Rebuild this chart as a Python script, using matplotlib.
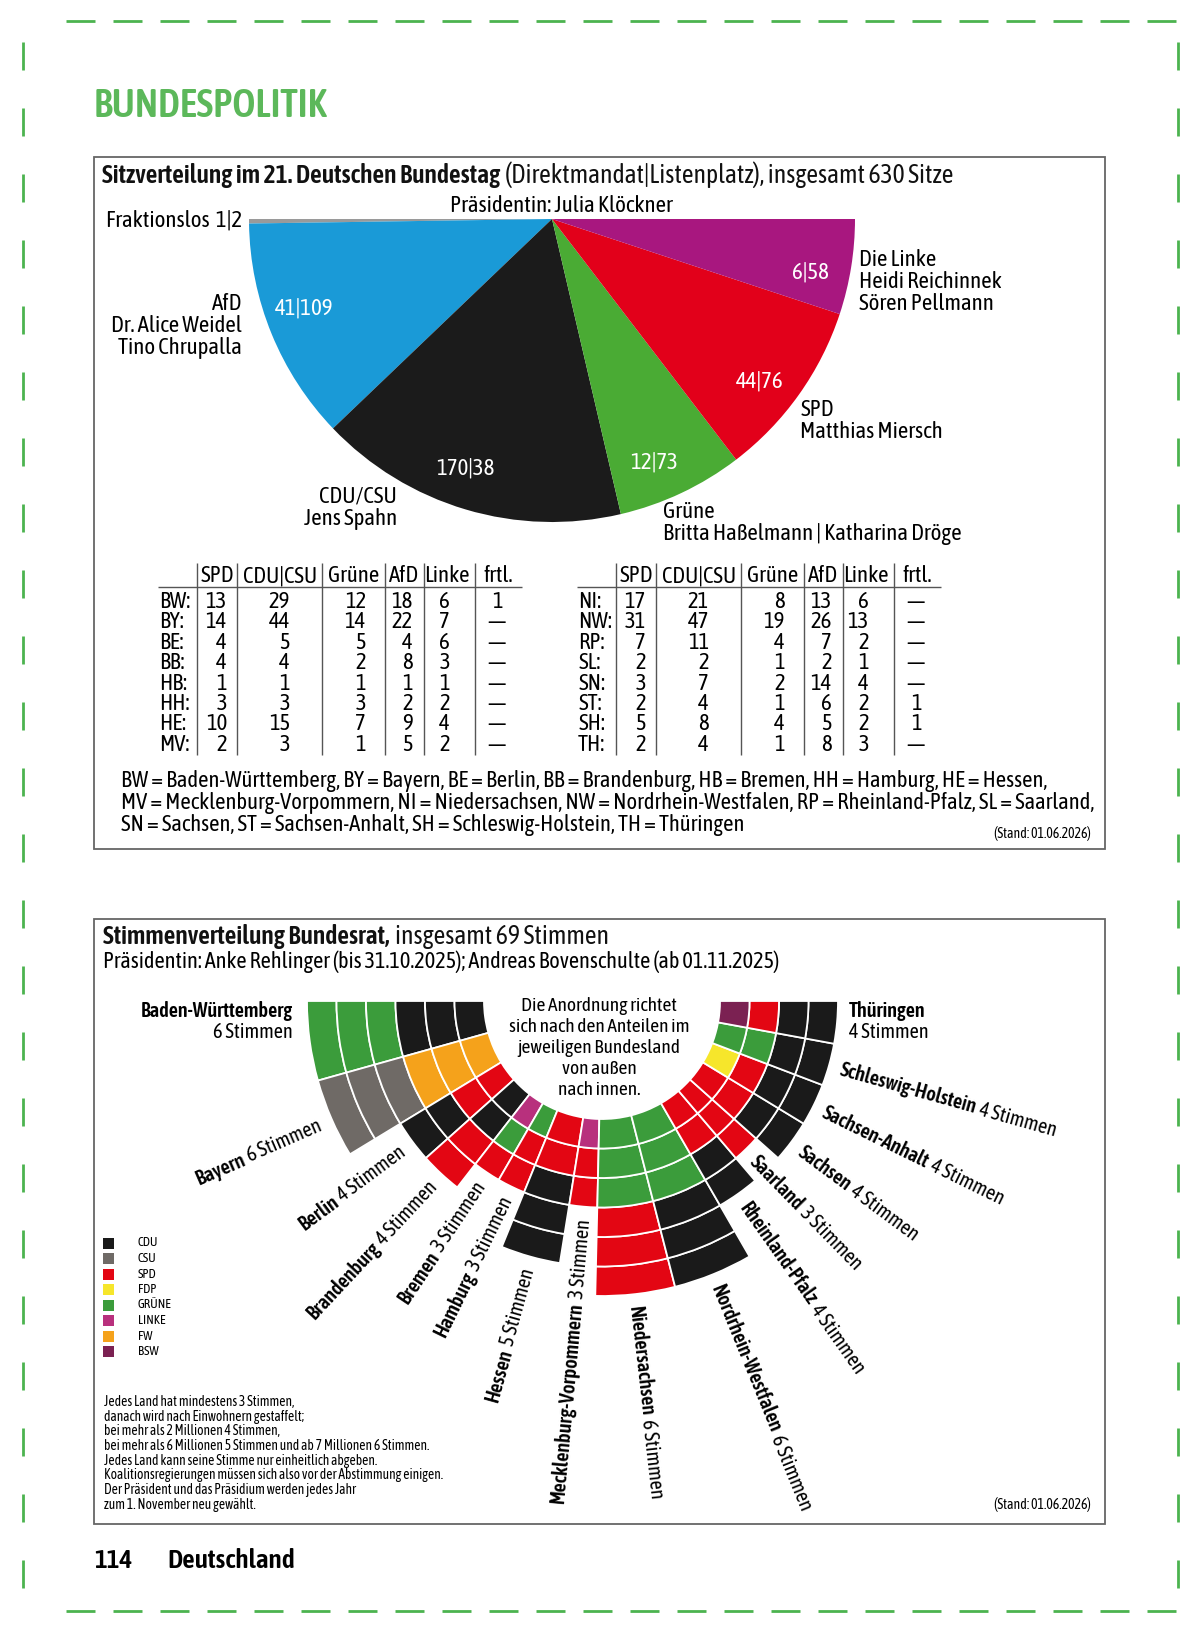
import matplotlib
matplotlib.use("Agg")
import matplotlib.pyplot as plt
from matplotlib.patches import Wedge, Rectangle
from matplotlib import font_manager as fm
from matplotlib.font_manager import FontProperties
import numpy as np

# ---------------- DATA ----------------
bt_parties = ["Fraktionslos", "AfD", "CDU/CSU", "Grüne", "SPD", "Die Linke"]
bt_direkt = [1, 41, 170, 12, 44, 6]
bt_liste = [2, 109, 38, 73, 76, 58]
bt_colors = ["#9a9a9a", "#1a9ad7", "#1b1b1b", "#4aab34", "#e2001a", "#a8177f"]

tbl_cols = ["SPD", "CDU|CSU", "Grüne", "AfD", "Linke", "frtl."]
tbl_left_rows = ["BW", "BY", "BE", "BB", "HB", "HH", "HE", "MV"]
tbl_left_vals = [
    [13, 29, 12, 18, 6, 1],
    [14, 44, 14, 22, 7, None],
    [4, 5, 5, 4, 6, None],
    [4, 4, 2, 8, 3, None],
    [1, 1, 1, 1, 1, None],
    [3, 3, 3, 2, 2, None],
    [10, 15, 7, 9, 4, None],
    [2, 3, 1, 5, 2, None],
]
tbl_right_rows = ["NI", "NW", "RP", "SL", "SN", "ST", "SH", "TH"]
tbl_right_vals = [
    [17, 21, 8, 13, 6, None],
    [31, 47, 19, 26, 13, None],
    [7, 11, 4, 7, 2, None],
    [2, 2, 1, 2, 1, None],
    [3, 7, 2, 14, 4, None],
    [2, 4, 1, 6, 2, 1],
    [5, 8, 4, 5, 2, 1],
    [2, 4, 1, 8, 3, None],
]

br_states = ["Baden-Württemberg", "Bayern", "Berlin", "Brandenburg", "Bremen",
             "Hamburg", "Hessen", "Mecklenburg-Vorpommern", "Niedersachsen",
             "Nordrhein-Westfalen", "Rheinland-Pfalz", "Saarland", "Sachsen",
             "Sachsen-Anhalt", "Schleswig-Holstein", "Thüringen"]
br_votes = [6, 6, 4, 4, 3, 3, 5, 3, 6, 6, 4, 3, 4, 4, 4, 4]
# cells from outside to inside
br_cells = [
    ["GRÜNE"] * 3 + ["CDU"] * 3,
    ["CSU"] * 3 + ["FW"] * 3,
    ["CDU", "CDU", "SPD", "SPD"],
    ["SPD", "SPD", "CDU", "CDU"],
    ["SPD", "GRÜNE", "LINKE"],
    ["SPD", "SPD", "GRÜNE"],
    ["CDU", "CDU", "CDU", "SPD", "SPD"],
    ["SPD", "SPD", "LINKE"],
    ["SPD"] * 3 + ["GRÜNE"] * 3,
    ["CDU"] * 3 + ["GRÜNE"] * 3,
    ["CDU", "CDU", "SPD", "SPD"],
    ["SPD", "SPD", "SPD"],
    ["CDU", "CDU", "SPD", "SPD"],
    ["CDU", "CDU", "SPD", "FDP"],
    ["CDU", "CDU", "GRÜNE", "GRÜNE"],
    ["CDU", "CDU", "SPD", "BSW"],
]
br_parties = ["CDU", "CSU", "SPD", "FDP", "GRÜNE", "LINKE", "FW", "BSW"]
br_colors = ["#1a1a1a", "#6f6a66", "#e30613", "#f6e62b", "#3b9c3b", "#b8307d", "#f5a21b", "#7b2152"]

abbrev_lines = [
    "BW = Baden-Württemberg, BY = Bayern, BE = Berlin, BB = Brandenburg, HB = Bremen, HH = Hamburg, HE = Hessen,",
    "MV = Mecklenburg-Vorpommern, NI = Niedersachsen, NW = Nordrhein-Westfalen, RP = Rheinland-Pfalz, SL = Saarland,",
    "SN = Sachsen, ST = Sachsen-Anhalt, SH = Schleswig-Holstein, TH = Thüringen",
]
foot_lines = [
    "Jedes Land hat mindestens 3 Stimmen,",
    "danach wird nach Einwohnern gestaffelt;",
    "bei mehr als 2 Millionen 4 Stimmen,",
    "bei mehr als 6 Millionen 5 Stimmen und ab 7 Millionen 6 Stimmen.",
    "Jedes Land kann seine Stimme nur einheitlich abgeben.",
    "Koalitionsregierungen müssen sich also vor der Abstimmung einigen.",
    "Der Präsident und das Präsidium werden jedes Jahr",
    "zum 1. November neu gewählt.",
]

# ---------------- FONT SELECTION ----------------
def wnum(w):
    if isinstance(w, str):
        return fm.weight_dict.get(w, 400)
    return int(w)


def snum(s):
    if isinstance(s, str):
        return fm.stretch_dict.get(s, 500)
    return int(s)


entries = [(e.name, wnum(e.weight), snum(e.stretch), e.fname, e.style) for e in fm.fontManager.ttflist]


def find(name, weight, condensed=False):
    best = None
    for n, w, s, f, st in entries:
        if n != name or st != "normal":
            continue
        if condensed and s >= 500:
            continue
        d = abs(w - weight)
        if best is None or d < best[0]:
            best = (d, f)
    return best[1] if best else None


REG_FILE = BOLD_FILE = None
for fam, cond, bw in [("Asap Condensed", False, 600), ("Archivo Narrow", False, 700), ("DejaVu Sans", True, 700)]:
    r, b = find(fam, 400, cond), find(fam, bw, cond)
    if r and b:
        REG_FILE, BOLD_FILE = r, b
        break

W, H = 1200, 1634
fig = plt.figure(figsize=(W / 100, H / 100), dpi=100)
ax = fig.add_axes([0, 0, 1, 1])
ax.set_xlim(0, W)
ax.set_ylim(H, 0)
ax.axis("off")
renderer = fig.canvas.get_renderer()
GREEN = "#4cb34f"


def fprop(px, bold=False):
    f = BOLD_FILE if bold else REG_FILE
    if f:
        return FontProperties(fname=f, size=px * 0.72)
    return FontProperties(family=["DejaVu Sans"], weight="bold" if bold else "normal", size=px * 0.72)


def txt(x, y, s, px, bold=False, **kw):
    return ax.text(x, y, s, fontproperties=fprop(px, bold), **kw)


def width(s, px, bold=False):
    t = txt(0, 0, s, px, bold)
    w = t.get_window_extent(renderer).width
    t.remove()
    return w


def space(px, bold=False):
    return 1.4 * (width("a a", px, bold) - width("aa", px, bold))


def fit(s, target, bold=False):
    return 20.0 * target / width(s, 20.0, bold)


def runs(x, y, parts, px, **kw):
    for s, b in parts:
        txt(x, y, s, px, b, ha="left", **kw)
        x += width(s, px, b) + space(px, b)


# font sizes fitted to the reference's text widths
S_BUNDES = fit("BUNDESPOLITIK", 235, True)
t1_parts = [("Sitzverteilung im 21. Deutschen Bundestag", True),
            ("(Direktmandat|Listenplatz), insgesamt 630 Sitze", False)]
S_TITLE = 20.0 * 851 / (sum(width(s, 20, b) for s, b in t1_parts) + space(20))
S_PIE = fit("Britta Haßelmann | Katharina Dröge", 298)
S_TAB = fit("CDU|CSU", 74)
S_ABB = fit(abbrev_lines[0], 927)
S_SUB = fit("Präsidentin: Anke Rehlinger (bis 31.10.2025); Andreas Bovenschulte (ab 01.11.2025)", 675)
S_LAB = 20.0 * 225 / (width("Schleswig-Holstein", 20, True) + space(20) + width("4 Stimmen", 20))
S_CEN = fit("sich nach den Anteilen im", 181)
S_LEG = fit("GRÜNE", 34)
S_FOOT = fit(foot_lines[3], 326)
S_STAND = fit("(Stand: 01.06.2026)", 97)
S_PAGE = fit("Deutschland", 128, True)

# ---------------- PAGE BORDER ----------------
xs = np.arange(66, 1190, 47)
ax.hlines([21] * len(xs), xs, xs + 29, color=GREEN, lw=2)
ax.hlines([1611] * len(xs), xs, xs + 29, color=GREEN, lw=2)
ys = np.arange(42, 1600, 66)
ax.vlines([23] * len(ys), ys, ys + 28, color=GREEN, lw=2)
ax.vlines([1178] * len(ys), ys, ys + 28, color=GREEN, lw=2)

txt(94, 106, "BUNDESPOLITIK", S_BUNDES, True, color="#5cb85a", va="center")

# ---------------- BOX 1: Bundestag ----------------
ax.add_patch(Rectangle((94, 157), 1011, 692, fill=False, ec="#666666", lw=1.3))
runs(102, 183, t1_parts, S_TITLE, va="baseline", color="#111111")
txt(561, 206, "Präsidentin: Julia Klöckner", S_PIE, ha="center", va="center")

PCX, PCY, PR = 552, 219, 303
seats = [d + l for d, l in zip(bt_direkt, bt_liste)]
tot = sum(seats)
a = 180.0
mids = []
for s, c in zip(seats, bt_colors):
    span = s / tot * 180.0
    ax.add_patch(Wedge((PCX, PCY), PR, a - span, a, fc=c, ec="none"))
    mids.append(a - span / 2)
    a -= span

for i in range(1, len(seats)):
    ang = np.radians(mids[i] + 2.5)
    x = PCX + 0.87 * PR * np.cos(ang)
    y = PCY + 0.87 * PR * np.sin(ang)
    txt(x, y, f"{bt_direkt[i]}|{bt_liste[i]}", S_PIE, color="white", ha="center", va="center")

LS = 1.02
txt(106, 220, f"Fraktionslos  {bt_direkt[0]}|{bt_liste[0]}", S_PIE, ha="left", va="center")
txt(242, 326, "AfD\nDr. Alice Weidel\nTino Chrupalla", S_PIE, ha="right", va="center", linespacing=LS, multialignment="right")
txt(397, 508, "CDU/CSU\nJens Spahn", S_PIE, ha="right", va="center", linespacing=LS, multialignment="right")
txt(663, 523, "Grüne\nBritta Haßelmann | Katharina Dröge", S_PIE, ha="left", va="center", linespacing=LS)
txt(800, 421, "SPD\nMatthias Miersch", S_PIE, ha="left", va="center", linespacing=LS)
txt(859, 282, "Die Linke\nHeidi Reichinnek\nSören Pellmann", S_PIE, ha="left", va="center", linespacing=LS)

# tables
col_right = [227, 290, 366, 413, 450]
frtl_x = 497
head_x = [217, 280, 354, 404, 447, 498]
vlines_x = [197, 237, 322, 385, 424, 475]
ROW0, ROWH = 602, 20.4
for off, rows, vals in [(0, tbl_left_rows, tbl_left_vals), (419, tbl_right_rows, tbl_right_vals)]:
    for hx, h in zip(head_x, tbl_cols):
        txt(hx + off, 576, h, S_TAB, ha="center", va="center")
    ax.hlines(587, 158 + off, 522 + off, color="#555555", lw=1)
    ax.vlines([v + off for v in vlines_x], 563, 755, color="#555555", lw=1)
    for r, (lab, row) in enumerate(zip(rows, vals)):
        y = ROW0 + r * ROWH
        txt(159 + off, y, lab + ":", S_TAB, ha="left", va="center")
        for c in range(5):
            txt(col_right[c] + off, y, str(row[c]), S_TAB, ha="right", va="center")
        txt(frtl_x + off, y, "—" if row[5] is None else str(row[5]), S_TAB, ha="center", va="center")

for i, line in enumerate(abbrev_lines):
    txt(121, 781 + i * 22, line, S_ABB, ha="left", va="center")
txt(1091, 833, "(Stand: 01.06.2026)", S_STAND, ha="right", va="center")

# ---------------- BOX 2: Bundesrat ----------------
ax.add_patch(Rectangle((94, 919), 1011, 605, fill=False, ec="#666666", lw=1.3))
runs(103, 944, [("Stimmenverteilung Bundesrat,", True), ("insgesamt 69 Stimmen", False)], S_TITLE,
     va="baseline", color="#111111")
txt(103, 962, "Präsidentin: Anke Rehlinger (bis 31.10.2025); Andreas Bovenschulte (ab 01.11.2025)", S_SUB,
    ha="left", va="center")

CX, CY, R0, RING = 602, 1001, 118, 29.5
pcol = dict(zip(br_parties, br_colors))
unit = 180.0 / sum(br_votes)
LPX = S_LAB
cum = 0
for i, (name, v, cells) in enumerate(zip(br_states, br_votes, br_cells)):
    th_hi = 180 - cum * unit
    th_lo = th_hi - v * unit
    cum += v
    for k, party in enumerate(cells):
        j = v - 1 - k
        ax.add_patch(Wedge((CX, CY), R0 + (j + 1) * RING, th_lo, th_hi, width=RING,
                           fc=pcol[party], ec="white", lw=1.3))
    stim = f"{v} Stimmen"
    if i == 0:
        txt(293, 1011, name, LPX, True, ha="right", va="center")
        txt(293, 1032, stim, LPX, ha="right", va="center")
        continue
    if i == len(br_states) - 1:
        txt(849, 1011, name, LPX, True, ha="left", va="center")
        txt(849, 1032, stim, LPX, ha="left", va="center")
        continue
    mid = (th_lo + th_hi) / 2
    rad = np.radians(mid)
    rl = R0 + v * RING + 12
    px_, py_ = CX + rl * np.cos(rad), CY + rl * np.sin(rad)
    sp = space(LPX)
    if mid > 90:
        rot = 180 - mid
        ux, uy = -np.cos(rad), -np.sin(rad)
        txt(px_, py_, stim, LPX, rotation=rot, rotation_mode="anchor", ha="right", va="center_baseline")
        d = width(stim, LPX) + sp
        txt(px_ - d * ux, py_ - d * uy, name, LPX, True, rotation=rot,
            rotation_mode="anchor", ha="right", va="center_baseline")
    else:
        rot = -mid
        ux, uy = np.cos(rad), np.sin(rad)
        txt(px_, py_, name, LPX, True, rotation=rot, rotation_mode="anchor",
            ha="left", va="center_baseline")
        d = width(name, LPX, True) + sp
        txt(px_ + d * ux, py_ + d * uy, stim, LPX, rotation=rot, rotation_mode="anchor",
            ha="left", va="center_baseline")

txt(599, 1048, "Die Anordnung richtet\nsich nach den Anteilen im\njeweiligen Bundesland\nvon außen\nnach innen.",
    S_CEN, ha="center", va="center", linespacing=1.2, multialignment="center")

for i, (p, c) in enumerate(zip(br_parties, br_colors)):
    y = 1243 + i * 15.5
    ax.add_patch(Rectangle((103, y - 5.5), 11, 11, fc=c, ec="none"))
    txt(138, y, p, S_LEG, ha="left", va="center")

for i, line in enumerate(foot_lines):
    txt(104, 1402 + i * 14.7, line, S_FOOT, ha="left", va="center")
txt(1091, 1505, "(Stand: 01.06.2026)", S_STAND, ha="right", va="center")

# footer
txt(94, 1560, "114", S_PAGE, True, ha="left", va="center")
txt(167, 1560, "Deutschland", S_PAGE, True, ha="left", va="center")

fig.savefig("out.png", dpi=100)
